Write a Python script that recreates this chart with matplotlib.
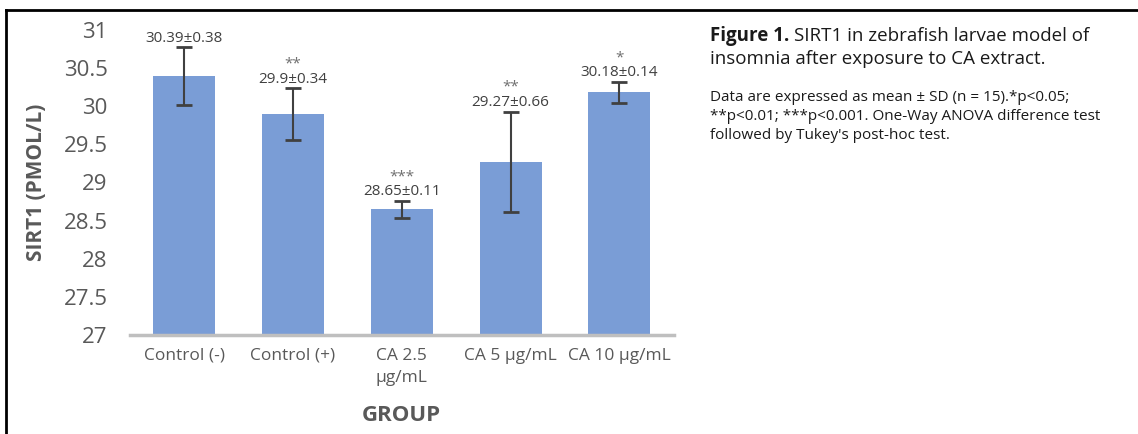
import numpy as np
import matplotlib
matplotlib.use("Agg")
import matplotlib.pyplot as plt
from matplotlib.lines import Line2D

groups = ['Control (-)', 'Control (+)', 'CA 2.5\nµg/mL', 'CA 5 µg/mL', 'CA 10 µg/mL']
means = [30.39, 29.9, 28.65, 29.27, 30.18]
sds = [0.38, 0.34, 0.11, 0.66, 0.14]
stars = ['', '**', '***', '**', '*']
y_ticks = [27, 27.5, 28, 28.5, 29, 29.5, 30, 30.5, 31]

plt.rcParams['font.family'] = ['Open Sans', 'DejaVu Sans']
grey = '#595959'

fig = plt.figure(figsize=(11.38, 4.34), dpi=100)
ax = fig.add_axes([0.114, 0.228, 0.478, 0.703])

x = np.arange(len(groups))
ax.bar(x, np.array(means) - 27, bottom=27, width=0.57, color='#7A9DD6', zorder=2)
ax.errorbar(x, means, yerr=sds, fmt='none', ecolor='#404040', elinewidth=1.5,
            capsize=5.5, capthick=2, zorder=3)

# value labels and significance stars above error bars
for i in range(len(groups)):
    top = means[i] + sds[i]
    ax.text(x[i], top + 0.07, '%g±%.2f' % (means[i], sds[i]), ha='center', va='baseline',
            fontsize=11, color='#404040')
    if stars[i]:
        ax.text(x[i], top + 0.27, stars[i], ha='center', va='baseline',
                fontsize=11, color='#6f6f6f')

ax.set_xlim(-0.5, len(groups) - 0.5)
ax.set_ylim(27, 31)
ax.set_yticks(y_ticks)
ax.set_yticklabels(['%g' % t for t in y_ticks])
ax.set_xticks(x)
ax.set_xticklabels(groups, linespacing=1.5)
ax.tick_params(axis='y', length=0, labelsize=16, labelcolor=grey, pad=16)
ax.tick_params(axis='x', length=0, labelsize=12.5, labelcolor=grey, pad=9)
for s in ['top', 'right', 'left']:
    ax.spines[s].set_visible(False)
ax.spines['bottom'].set_color('#BFBFBF')
ax.spines['bottom'].set_linewidth(2.5)
ax.set_xlabel('GROUP', fontsize=16, fontweight='bold', color=grey, labelpad=14)
ax.set_ylabel('SIRT1 (PMOL/L)', fontsize=15, fontweight='bold', color=grey, labelpad=12)

# frame lines
fig.add_artist(Line2D([6 / 1138, 1], [1 - 10 / 434, 1 - 10 / 434], color='black', lw=2))
fig.add_artist(Line2D([6 / 1138, 6 / 1138], [0, 1 - 10 / 434], color='black', lw=2))

# caption
cx = 710 / 1138
t1 = fig.text(cx, 1 - 36 / 434, 'Figure 1.', fontsize=13.5, fontweight='bold',
              va='center', color='#1a1a1a')
fig.canvas.draw()
bb = t1.get_window_extent()
fig.text(bb.x1 / 1138 + 0.004, 1 - 36 / 434, 'SIRT1 in zebrafish larvae model of',
         fontsize=13.5, va='center', color='#1a1a1a')
fig.text(cx, 1 - 59 / 434, 'insomnia after exposure to CA extract.', fontsize=13.5,
         va='center', color='#1a1a1a')
fig.text(cx, 1 - 90 / 434,
         'Data are expressed as mean ± SD (n = 15).*p<0.05;\n'
         '**p<0.01; ***p<0.001. One-Way ANOVA difference test\n'
         "followed by Tukey's post-hoc test.",
         fontsize=11, va='top', color='#1a1a1a', linespacing=1.38)

fig.savefig('out.png', dpi=100)
